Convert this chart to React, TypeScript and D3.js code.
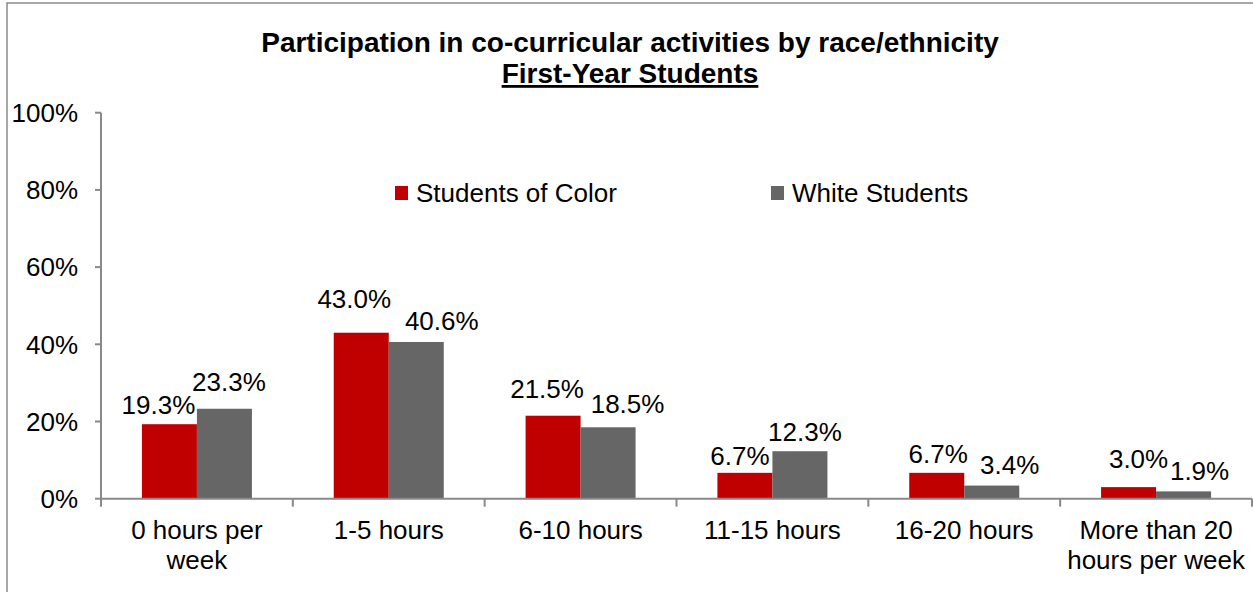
import React from "react";
import * as d3 from "d3";

const categories: string[][] = [
  ["0 hours per", "week"],
  ["1-5 hours"],
  ["6-10 hours"],
  ["11-15 hours"],
  ["16-20 hours"],
  ["More than 20", "hours per week"],
];
const seriesNames = ["Students of Color", "White Students"];
const studentsOfColor = [19.3, 43.0, 21.5, 6.7, 6.7, 3.0];
const whiteStudents = [23.3, 40.6, 18.5, 12.3, 3.4, 1.9];
const yTicks = [0, 20, 40, 60, 80, 100];

// label placement tweaks (pixels), as in the reference
const labelDx = [
  [-11, -7, -6, -5, 1.5, 10],
  [4.5, 25.5, 19.5, 5, 18, 16],
];
const labelDy = [
  [-10.5, -24.5, -17.5, -8, -10, -19],
  [-18, -12, -14, -10.5, -11.5, -11.5],
];

const COLORS = ["#C00000", "#666666"];
const FONT = "'Liberation Sans', Arial, Helvetica, sans-serif";

export default function App() {
  const W = 1253;
  const H = 592;
  const x0 = 101;
  const x1 = 1252;
  const yTop = 112.7;
  const yBot = 498.7;

  const x = d3
    .scaleBand<number>()
    .domain(categories.map((_, i) => i))
    .range([x0, x1])
    .paddingInner(0)
    .paddingOuter(0);
  const bw = x.bandwidth();
  const groupW = 110;
  const xs = d3
    .scaleBand<number>()
    .domain([0, 1])
    .range([(bw - groupW) / 2, (bw + groupW) / 2])
    .padding(0);
  const y = d3.scaleLinear().domain([0, 100]).range([yBot, yTop]);

  const series = [studentsOfColor, whiteStudents];
  const axisColor = "#898989";

  return (
    <svg
      width={W}
      height={H}
      style={{ position: "absolute", left: 0, top: 0, background: "#fff" }}
      fontFamily={FONT}
    >
      <rect x={0} y={0} width={W} height={H} fill="#fff" />
      <rect
        x={7}
        y={3}
        width={W + 20}
        height={H + 20}
        fill="none"
        stroke="#8a8a8a"
        strokeWidth={1.5}
      />
      {/* Title */}
      <text x={630} y={52} textAnchor="middle" fontSize={28} fontWeight="bold" fill="#000">
        Participation in co-curricular activities by race/ethnicity
      </text>
      <text
        x={630}
        y={83}
        textAnchor="middle"
        fontSize={28}
        fontWeight="bold"
        fill="#000"
        textDecoration="underline"
        style={{ textDecoration: "underline" }}
      >
        First-Year Students
      </text>

      {/* Y axis */}
      <line x1={x0} x2={x0} y1={y(100)} y2={y(0)} stroke={axisColor} strokeWidth={2} />
      {yTicks.map((t) => (
        <g key={t}>
          <line x1={x0 - 6} x2={x0} y1={y(t)} y2={y(t)} stroke={axisColor} strokeWidth={2} />
          <text x={78} y={y(t) + 9.3} textAnchor="end" fontSize={26} fill="#000">
            {t}%
          </text>
        </g>
      ))}

      {/* Bars */}
      {series.map((vals, s) =>
        vals.map((v, i) => (
          <rect
            key={`b${s}-${i}`}
            x={(x(i) as number) + (xs(s) as number)}
            y={y(v)}
            width={xs.bandwidth()}
            height={y(0) - y(v)}
            fill={COLORS[s]}
          />
        ))
      )}

      {/* X axis */}
      <line x1={x0} x2={x1} y1={y(0)} y2={y(0)} stroke={axisColor} strokeWidth={2} />
      {categories.map((_, i) => (
        <line
          key={`t${i}`}
          x1={x(i) as number}
          x2={x(i) as number}
          y1={y(0)}
          y2={y(0) + 8}
          stroke={axisColor}
          strokeWidth={2}
        />
      ))}
      <line x1={x1} x2={x1} y1={y(0)} y2={y(0) + 8} stroke={axisColor} strokeWidth={2} />

      {/* Category labels */}
      {categories.map((lines, i) => (
        <text
          key={`c${i}`}
          x={(x(i) as number) + bw / 2}
          y={539}
          textAnchor="middle"
          fontSize={26}
          fill="#000"
        >
          {lines.map((ln, k) => (
            <tspan key={k} x={(x(i) as number) + bw / 2} dy={k === 0 ? 0 : 29.5}>
              {ln}
            </tspan>
          ))}
        </text>
      ))}

      {/* Value labels */}
      {series.map((vals, s) =>
        vals.map((v, i) => (
          <text
            key={`l${s}-${i}`}
            x={(x(i) as number) + (xs(s) as number) + xs.bandwidth() / 2 + labelDx[s][i]}
            y={y(v) + labelDy[s][i]}
            textAnchor="middle"
            fontSize={26}
            fill="#000"
          >
            {v.toFixed(1)}%
          </text>
        ))
      )}

      {/* Legend */}
      {seriesNames.map((name, s) => {
        const lx = [395, 771][s];
        return (
          <g key={name}>
            <rect x={lx} y={186} width={13} height={14} fill={COLORS[s]} />
            <text x={lx + 21} y={202} fontSize={26} fill="#000">
              {name}
            </text>
          </g>
        );
      })}
    </svg>
  );
}
